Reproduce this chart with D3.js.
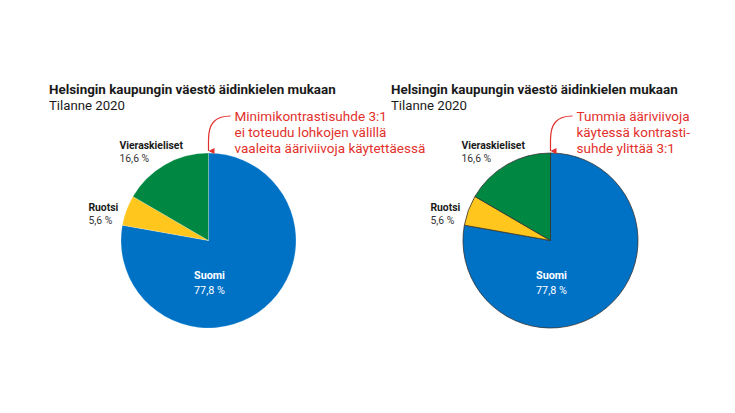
<!DOCTYPE html>
<html><head><meta charset="utf-8">
<script src="https://cdn.jsdelivr.net/npm/d3@7"></script>
<style>
html,body{margin:0;padding:0;background:#fff;}
svg{display:block;font-family:Roboto, "Liberation Sans", sans-serif;}
</style></head>
<body>
<svg id="c" width="735" height="413"></svg>
<script>
const categories = ["Suomi", "Ruotsi", "Vieraskieliset"];
const values = [77.8, 5.6, 16.6];
const valueLabels = ["77,8 %", "5,6 %", "16,6 %"];
const colors = ["#0072c6", "#ffc61e", "#008741"];
const chartTitle = "Helsingin kaupungin väestö äidinkielen mukaan";
const chartSubtitle = "Tilanne 2020";
const notesLeft = ["Minimikontrastisuhde 3:1", "ei toteudu lohkojen välillä", "vaaleita ääriviivoja käytettäessä"];
const notesRight = ["Tummia ääriviivoja", "käytessä kontrasti-", "suhde ylittää 3:1"];

const svg = d3.select("#c");
const data = categories.map((c, i) => ({name: c, value: values[i], label: valueLabels[i], color: colors[i]}));
const pie = d3.pie().value(d => d.value).sort(null);
const arcs = pie(data);
const R = 87.5;
const arc = d3.arc().innerRadius(0).outerRadius(R);
const red = "#e2312c";

// font size giving a measured width for a given string
function fitSize(str, weight, target) {
  const t = svg.append("text").attr("font-size", 20).attr("font-weight", weight).text(str);
  const w = t.node().getComputedTextLength();
  t.remove();
  return 20 * target / w;
}
const titleFs = fitSize(chartTitle, 700, 287);
const subFs = fitSize(chartSubtitle, 400, 76);
const noteFs = fitSize(notesRight[1], 400, 113.5);
const outLblFs = fitSize(categories[2], 700, 63.5);
const inLblFs = fitSize(categories[0], 700, 31);

svg.append("defs").append("marker")
  .attr("id", "ah").attr("viewBox", "0 0 10 10").attr("refX", 5).attr("refY", 10)
  .attr("markerWidth", 7).attr("markerHeight", 6).attr("markerUnits", "userSpaceOnUse")
  .attr("orient", "auto-start-reverse")
  .append("path").attr("d", "M0,0 L10,0 L5,10 Z").attr("fill", red);

function panel(x0, cx, cy, stroke, strokeW, notes) {
  const g = svg.append("g");
  g.append("text").attr("x", x0).attr("y", 93.5).attr("font-size", titleFs).attr("font-weight", 700)
    .attr("fill", "#1a1a1a").text(chartTitle);
  g.append("text").attr("x", x0).attr("y", 109.5).attr("font-size", subFs)
    .attr("fill", "#1a1a1a").text(chartSubtitle);

  const pg = g.append("g").attr("transform", `translate(${cx},${cy})`);
  pg.selectAll("path").data(arcs).join("path")
    .attr("d", arc).attr("fill", d => d.data.color)
    .attr("stroke", stroke).attr("stroke-width", strokeW).attr("stroke-linejoin", "round");

  // labels
  arcs.forEach((a, i) => {
    const mid = (a.startAngle + a.endAngle) / 2;
    const px = Math.sin(mid) * R, py = -Math.cos(mid) * R;
    let tx, ty, fill1, fill2, anchor, gap, fs;
    if (i === 0) { tx = 1; ty = 38.5; fill1 = "#fff"; fill2 = "#fff"; anchor = "middle"; gap = 14.5; fs = inLblFs; }
    else if (i === 1) { tx = px - 38; ty = py + 1; fill1 = "#1a1a1a"; fill2 = "#333"; anchor = "start"; gap = 13; fs = outLblFs; }
    else { tx = px - 45.5; ty = py - 15.5; fill1 = "#1a1a1a"; fill2 = "#333"; anchor = "start"; gap = 13; fs = outLblFs; }
    pg.append("text").attr("x", tx).attr("y", ty).attr("text-anchor", anchor)
      .attr("font-size", fs).attr("font-weight", 700)
      .attr("fill", fill1).text(a.data.name);
    pg.append("text").attr("x", tx).attr("y", ty + gap).attr("text-anchor", anchor)
      .attr("font-size", fs).attr("fill", fill2).text(a.data.label);
  });

  // annotation
  const nx = cx + 26;
  notes.forEach((t, i) => {
    g.append("text").attr("x", nx).attr("y", 120.5 + i * 16)
      .attr("font-size", noteFs).attr("fill", red).text(t);
  });
  const ax = cx;
  g.append("path")
    .attr("d", `M${nx - 4},116 C${ax + 6},116 ${ax},124 ${ax},140 L${ax},151`)
    .attr("fill", "none").attr("stroke", red).attr("stroke-width", 1.2)
    .attr("marker-end", "url(#ah)");
}

panel(49, 208.5, 240.5, "rgba(255,255,255,0.35)", 0.6, notesLeft);
panel(391, 550.5, 240.5, "#333", 0.8, notesRight);
</script>
</body></html>
